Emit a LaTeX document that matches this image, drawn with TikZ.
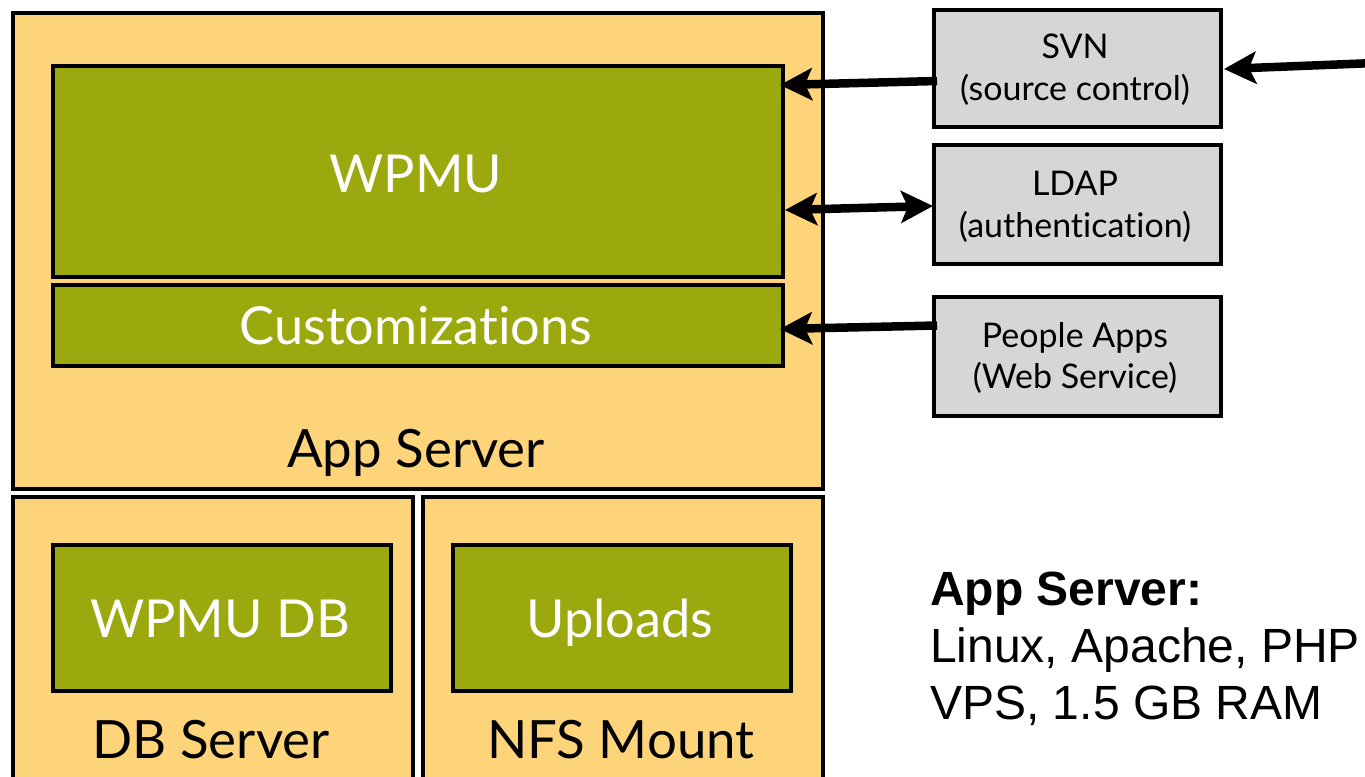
\documentclass[tikz,border=0pt]{standalone}
\usepackage{fontspec}
\setmainfont{Lato}[Ligatures={NoCommon}]
\newfontfamily\arialfont{Liberation Sans}
\usetikzlibrary{arrows.meta,calc}
\definecolor{srvyellow}{HTML}{FED47B}
\definecolor{appgreen}{HTML}{9BA80E}
\definecolor{extgray}{HTML}{D6D6D6}
\begin{document}
\begin{tikzpicture}[x=1bp,y=-1bp,
  box/.style={draw=black, line width=4bp, inner sep=0pt, anchor=north west},
  server/.style={box, fill=srvyellow},
  comp/.style={box, fill=appgreen},
  ext/.style={box, fill=extgray},
  lbl/.style={anchor=base, inner sep=0pt},
  big/.style={lbl, font=\fontsize{52.5}{58}\selectfont},
  mid/.style={lbl, font=\fontsize{53}{58}\selectfont},
  small/.style={lbl, font=\fontsize{34.1}{39}\selectfont},
  note/.style={anchor=base west, inner sep=0pt, font=\arialfont\fontsize{48.2}{57}\selectfont},
  tip/.tip={Stealth[length=32bp,width=32bp,inset=7bp]},
  arr/.style={line width=8.5bp, -tip},
  darr/.style={line width=8.5bp, tip-tip},
]
\clip (0,0) rectangle (1365,776);
\fill[white] (0,0) rectangle (1365,776);

% servers
\node[server, minimum width=810bp, minimum height=476bp] (app) at (11,11) {};
\node[server, minimum width=400bp, minimum height=320bp] (db) at (11,495) {};
\node[server, minimum width=400bp, minimum height=320bp] (nfs) at (421,495) {};

% components
\node[comp, minimum width=730bp, minimum height=211bp] (wpmu) at (51,64) {};
\node[comp, minimum width=730bp, minimum height=81bp] (cust) at (51,283) {};
\node[comp, minimum width=338bp, minimum height=146bp] (wpmudb) at (51,543) {};
\node[comp, minimum width=338bp, minimum height=146bp] (uploads) at (451,543) {};

% external services
\node[ext, minimum width=287bp, minimum height=117bp] (svn) at (932,8) {};
\node[ext, minimum width=287bp, minimum height=119bp] (ldap) at (932,143) {};
\node[ext, minimum width=287bp, minimum height=119bp] (people) at (932,295) {};

% labels
\node[big, text=white] (wpmut) at (416,192) {WPMU};
\node[big, text=white] (custt) at (416,344) {Customizations};
\node[mid] (appt) at (416,467) {App Server};
\node[big, text=white] (wpmudbt) at (220,637) {WPMU DB};
\node[big, text=white] (uploadst) at (620,637) {Uploads};
\node[mid] (dbt) at (211,758) {DB Server};
\node[mid] (nfst) at (621,758) {NFS Mount};

\node[small] (svnt) at (1075,59) {SVN};
\node[small] (svns) at (1075,100) {(source control)};
\node[small] (ldapt) at (1075,195) {LDAP};
\node[small] (ldaps) at (1075,237) {(authentication)};
\node[small] (peoplet) at (1075,347) {People Apps};
\node[small] (peoples) at (1075,388) {(Web Service)};

\node[note] (n1) at (930,605) {\bfseries App Server:};
\node[note] (n2) at (930,662) {Linux, Apache, PHP};
\node[note] (n3) at (930,719) {VPS, 1.5 GB RAM};

% connectors
\coordinate (feed) at (1375,63);
\draw[arr] ($(svn.west)+(5,12.5)$) -- ($(wpmu.east)+(-5,-86.5)$);
\draw[darr] ($(wpmu.east)+(0,38.5)$) -- ($(ldap.west)+(1,1.5)$);
\draw[arr] ($(people.west)+(5,-31)$) -- ($(cust.east)+(-5,3.5)$);
\draw[arr] (feed) -- ($(svn.east)+(1,0.5)$);
\end{tikzpicture}
\end{document}
